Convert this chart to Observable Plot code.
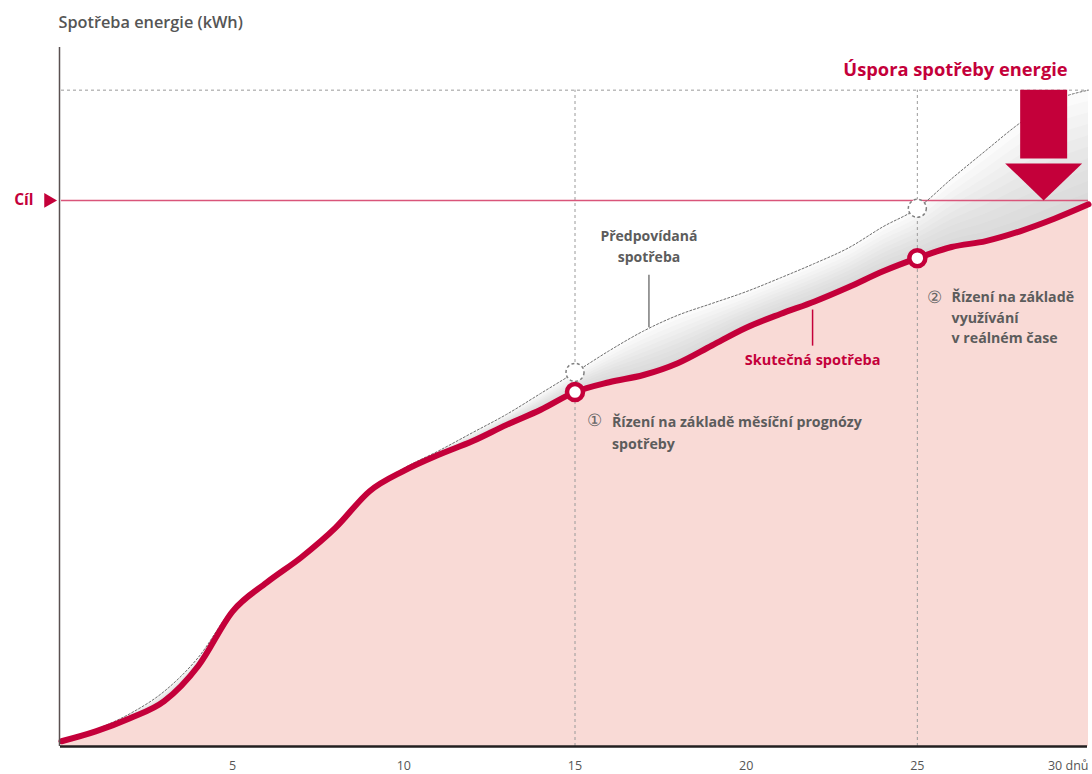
<!DOCTYPE html>
<html><head><meta charset="utf-8">
<script src="https://cdn.jsdelivr.net/npm/d3@7"></script>
<script src="https://cdn.jsdelivr.net/npm/@observablehq/plot@0.6"></script>
<style>body{margin:0;background:#fff;} svg{display:block;}</style>
</head><body><div id="chart"></div>
<script>
// ---- data ----
const days = [0,1,2,3,4,5,6,7,8,9,10,11,12,13,14,15,16,17,18,19,20,21,22,23,24,25,26,27,28,29,30];
const actual = [0.8,2.3,4.3,6.9,12.3,20.6,25.0,28.8,33.3,38.9,42.0,44.4,46.5,49.0,51.3,54.0,55.5,56.6,58.4,61.1,63.8,65.9,67.8,70.0,72.4,74.4,76.1,77.0,78.5,80.4,82.6];
const predicted = [0.8,2.6,5.0,8.4,13.6,21.0,25.1,28.9,33.4,39.0,42.4,45.0,47.8,50.6,53.8,57.0,60.3,63.3,65.7,67.5,69.3,71.4,73.6,76.0,79.2,82.0,86.5,90.8,95.0,98.4,100];
const target = 83.2;
const forecastTop = 100;
const checkpoints = [15, 25];
const tickValues = [5, 10, 15, 20, 25];
const tickLabels = ["5", "10", "15", "20", "25"];
const lastTickValue = [30];
const lastTickLabel = ["30 dnů"];
const savingDay = 28.69;

const rows = days.map((d, i) => ({day: d, actual: actual[i], predicted: predicted[i]}));
const cps = checkpoints.map(c => rows.find(r => r.day === c));

const RED = "#c4003a";
const GRAYTXT = "#5c5c5c";
const FONT = "'Open Sans', Roboto, sans-serif";

const bands = [0.1,0.2,0.3,0.4,0.5,0.6,0.7,0.8,0.9,1.0];
const gradMarks = bands.map(k => Plot.areaY(rows, {
  x: "day", y1: "actual", y2: d => d.actual + k * (d.predicted - d.actual),
  curve: "monotone-x", fill: "#8c8c8c", fillOpacity: 0.035
}));

const arrowHead = {draw(ctx) { ctx.moveTo(-38.5, -37); ctx.lineTo(38.5, -37); ctx.lineTo(0, 0); ctx.closePath(); }};

const chart = Plot.plot({
  width: 1092, height: 774,
  marginLeft: 61, marginRight: 4, marginTop: 47, marginBottom: 28,
  x: {domain: [0, 30], axis: null},
  y: {domain: [0, 106.5], axis: null},
  style: {fontFamily: FONT, background: "#fff"},
  marks: [
    Plot.areaY(rows, {x: "day", y: "actual", curve: "monotone-x", fill: "#f9dad6"}),
    ...gradMarks,
    Plot.ruleX(checkpoints, {y1: 0, y2: forecastTop, stroke: "#9a9a9a", strokeWidth: 1, strokeDasharray: "3,3"}),
    Plot.ruleY([forecastTop], {x1: 0, x2: 30, stroke: "#9a9a9a", strokeWidth: 1, strokeDasharray: "3,3"}),
    Plot.ruleY([target], {x1: 0, x2: 30, stroke: "#d9557a", strokeWidth: 1.5}),
    Plot.line(rows, {x: "day", y: "predicted", curve: "monotone-x", stroke: "#6f6f6f", strokeWidth: 1, strokeDasharray: "2,2"}),
    Plot.line(rows, {x: "day", y: "actual", curve: "monotone-x", stroke: RED, strokeWidth: 6}),
    // saving arrow
    Plot.ruleX([savingDay], {y1: forecastTop, y2: 89.5, stroke: RED, strokeWidth: 47}),
    Plot.dot([savingDay], {x: d => d, y: () => target, symbol: arrowHead, r: 10, fill: RED, stroke: "none"}),
    // checkpoints
    Plot.dot(cps, {x: "day", y: "predicted", r: 9, fill: "white", stroke: "#808080", strokeWidth: 1.5, strokeDasharray: "3,2.5"}),
    Plot.dot(cps, {x: "day", y: "actual", r: 8, fill: "white", stroke: RED, strokeWidth: 4.5}),
    // axes
    Plot.ruleX([0], {y1: 0, y2: 106.5, dx: -2, stroke: "#5a5050", strokeWidth: 1.5}),
    Plot.ruleY([0], {x1: 0, x2: 30, dx: -1, stroke: "#231f20", strokeWidth: 2.5}),
    Plot.text(tickValues, {x: d => d, y: () => 0, text: (d, i) => tickLabels[i], dy: 19, fontSize: 12.5, fill: "#555"}),
    Plot.text(lastTickValue, {x: d => d, y: () => 0, text: (d, i) => lastTickLabel[i], dy: 19, textAnchor: "end", fontSize: 12.5, fill: "#555"}),
    // titles
    Plot.text(["Spotřeba energie (kWh)"], {frameAnchor: "top-left", dx: -3, dy: -25, textAnchor: "start", lineAnchor: "middle", fontSize: 16.3, fontWeight: 600, fill: "#555"}),
    Plot.text(["Cíl"], {x: () => 0, y: () => target, dx: -28, textAnchor: "end", fontSize: 15.5, fontWeight: 700, fill: RED}),
    Plot.dot([target], {x: () => 0, y: d => d, dx: -13, symbol: "triangle", rotate: 90, r: 5.5, fill: RED}),
    Plot.text(["Úspora spotřeby energie"], {x: () => 29.39, y: () => 103.0, textAnchor: "end", fontSize: 18.3, fontWeight: 700, fill: RED}),
    // annotations
    Plot.text(["Předpovídaná\nspotřeba"], {x: () => 17.16, y: () => 76.4, fontSize: 14, fontWeight: 700, fill: GRAYTXT, lineHeight: 1.45}),
    Plot.ruleX([17.16], {y1: 71.8, y2: 63.8, stroke: "#666", strokeWidth: 1.3}),
    Plot.text(["Skutečná spotřeba"], {x: () => 21.94, y: () => 58.8, fontSize: 14.5, fontWeight: 700, fill: RED}),
    Plot.ruleX([21.94], {y1: 66.5, y2: 61.0, stroke: RED, strokeWidth: 1.5}),
    Plot.text(["①"], {x: () => 15.58, y: () => 49.7, fontSize: 17, fill: "#666"}),
    Plot.text(["Řízení na základě měsíční prognózy\nspotřeby"], {x: () => 16.08, y: () => 49.7, textAnchor: "start", lineAnchor: "middle", dy: 11, fontSize: 14.2, fontWeight: 700, fill: GRAYTXT, lineHeight: 1.55}),
    Plot.text(["②"], {x: () => 25.5, y: () => 68.4, fontSize: 17, fill: "#666"}),
    Plot.text(["Řízení na základě\nvyužívání\nv reálném čase"], {x: () => 26.0, y: () => 68.4, textAnchor: "start", lineAnchor: "top", dy: -10, fontSize: 14.2, fontWeight: 700, fill: GRAYTXT, lineHeight: 1.45})
  ]
});
document.getElementById("chart").appendChild(chart);
</script>
</body></html>
